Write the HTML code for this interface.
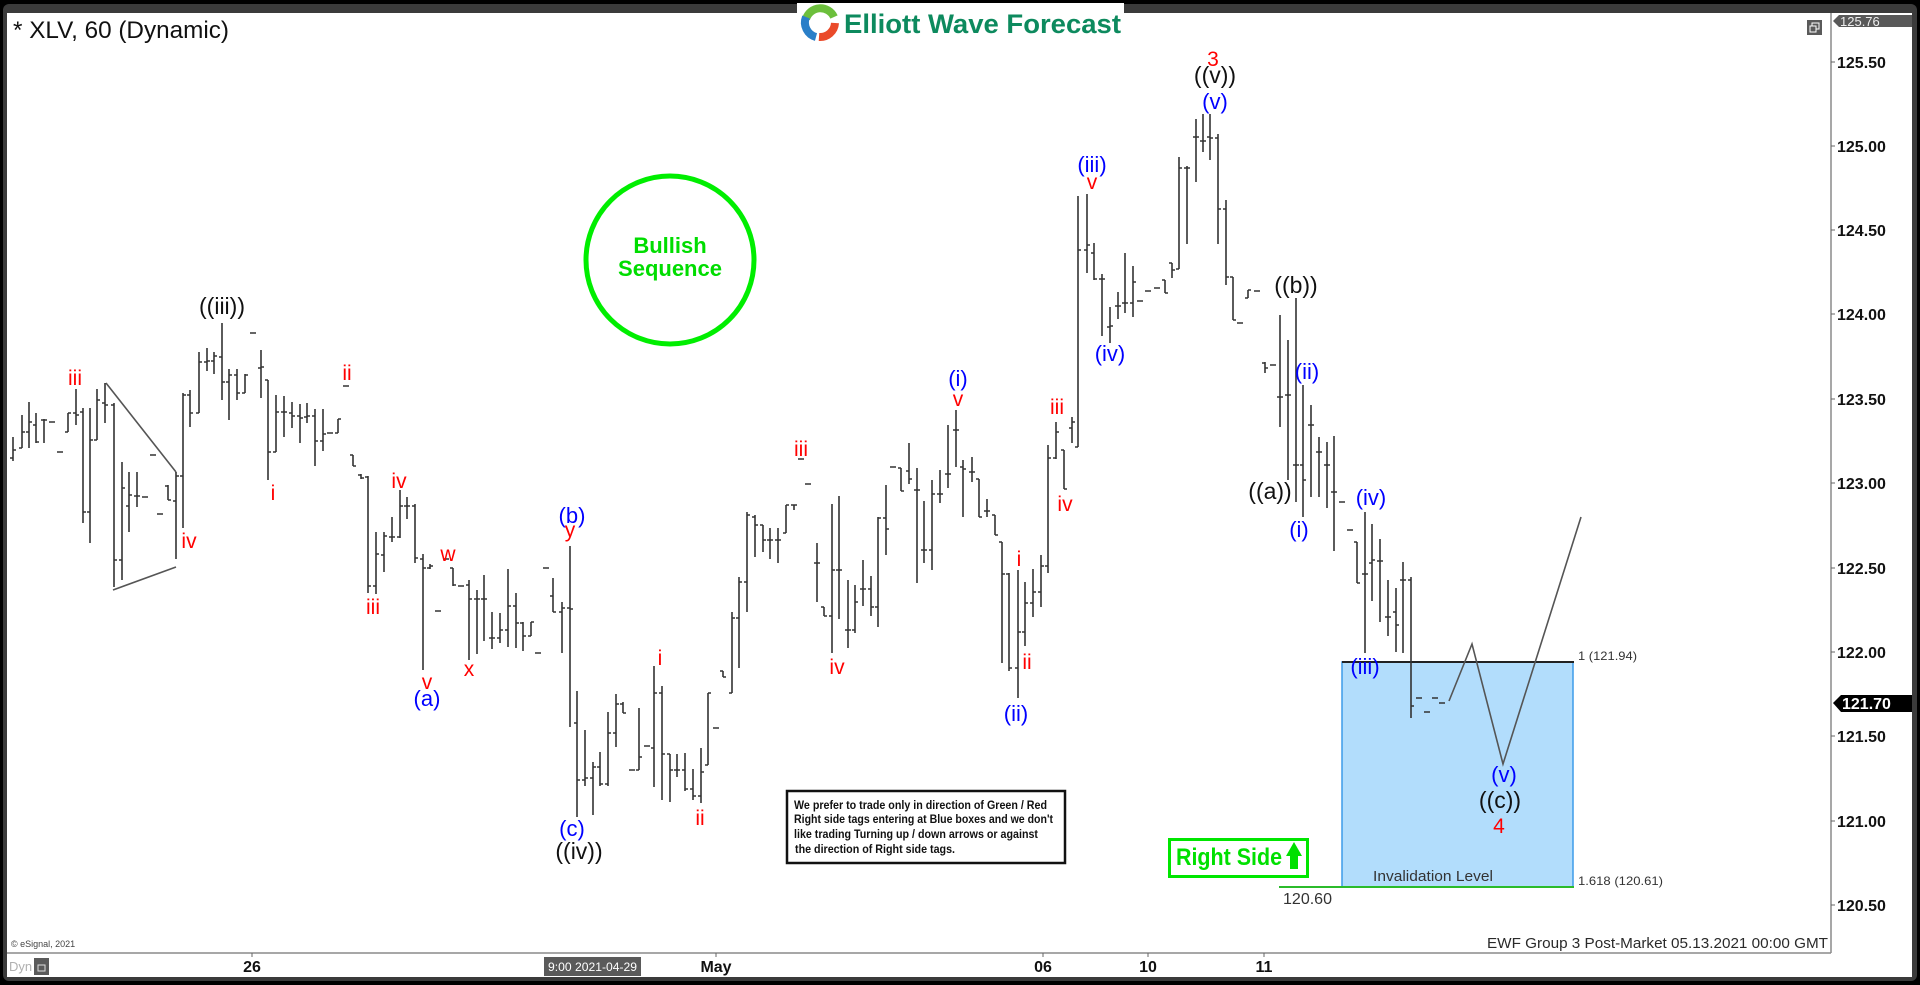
<!DOCTYPE html>
<html><head><meta charset="utf-8"><style>
html,body{margin:0;padding:0;background:#000;overflow:hidden;}
svg{display:block;font-family:"Liberation Sans",Arial,sans-serif;}
</style></head><body>
<svg width="1920" height="985" viewBox="0 0 1920 985" xmlns="http://www.w3.org/2000/svg">
<rect x="0" y="0" width="1920" height="985" fill="#000"/>
<rect x="3" y="4" width="1914" height="977" rx="6" fill="#3b3b3b"/>
<rect x="7" y="13" width="1905" height="964" fill="#fff"/>
<!-- logo -->
<rect x="797" y="3" width="327" height="37" fill="#fff"/>
<path d="M806,19 A15,15 0 0,1 834,17" fill="none" stroke="#6cbf3c" stroke-width="8"/>
<path d="M835,23 A15,15 0 0,1 819,37" fill="none" stroke="#ea4a2a" stroke-width="8"/>
<path d="M816,37 A15,15 0 0,1 806,17" fill="none" stroke="#2a7fc8" stroke-width="8"/>
<text x="844" y="33" font-size="27" font-weight="bold" fill="#0d8a5e" textLength="277" lengthAdjust="spacingAndGlyphs">Elliott Wave Forecast</text>
<!-- title -->
<text x="13" y="38" font-size="24" fill="#111" textLength="216" lengthAdjust="spacingAndGlyphs">* XLV, 60 (Dynamic)</text>
<!-- window icon -->
<rect x="1807" y="20" width="15" height="15" fill="#5a5a5a"/>
<rect x="1812" y="23" width="7" height="6" fill="none" stroke="#fff" stroke-width="1"/>
<rect x="1810" y="26" width="6" height="6" fill="#5a5a5a" stroke="#fff" stroke-width="1"/>
<!-- axes -->
<line x1="1831" y1="13" x2="1831" y2="953" stroke="#8a8a8a" stroke-width="1.5"/>
<line x1="7" y1="953" x2="1831" y2="953" stroke="#8a8a8a" stroke-width="1.5"/>
<g stroke="#666" stroke-width="1">
<path d="M1831 62h4M1831 146h4M1831 230h4M1831 314h4M1831 399h4M1831 483h4M1831 568h4M1831 652h4M1831 736h4M1831 821h4M1831 905h4"/>
<path d="M252 953v4M716 953v4M1043 953v4M1148 953v4M1264 953v4"/>
</g>
<g font-size="16" font-weight="bold" fill="#111">
<text x="1837" y="68">125.50</text>
<text x="1837" y="152">125.00</text>
<text x="1837" y="236">124.50</text>
<text x="1837" y="320">124.00</text>
<text x="1837" y="405">123.50</text>
<text x="1837" y="489">123.00</text>
<text x="1837" y="574">122.50</text>
<text x="1837" y="658">122.00</text>
<text x="1837" y="742">121.50</text>
<text x="1837" y="827">121.00</text>
<text x="1837" y="911">120.50</text>
</g>
<polygon points="1833,21 1839,15 1912,15 1912,27 1839,27" fill="#595959"/>
<text x="1840" y="26" font-size="13" fill="#eee">125.76</text>
<polygon points="1833,703 1841,695 1912,695 1912,712 1841,712" fill="#000"/>
<text x="1842" y="709" font-size="16" font-weight="bold" fill="#fff">121.70</text>
<!-- x axis labels -->
<g font-size="16" font-weight="bold" fill="#111" text-anchor="middle">
<text x="252" y="972">26</text>
<text x="716" y="972">May</text>
<text x="1043" y="972">06</text>
<text x="1148" y="972">10</text>
<text x="1264" y="972">11</text>
</g>
<rect x="544" y="957" width="97" height="19" fill="#5a5a5a"/>
<text x="548" y="971" font-size="12" fill="#fff" textLength="89" lengthAdjust="spacingAndGlyphs">9:00 2021-04-29</text>
<text x="9" y="971" font-size="13" fill="#b0b0b0">Dyn</text>
<rect x="34" y="958" width="15" height="17" fill="#5a5a5a"/>
<rect x="38" y="965" width="7" height="6" fill="none" stroke="#ddd" stroke-width="1"/>
<text x="11" y="947" font-size="9" fill="#444">© eSignal, 2021</text>
<text x="1487" y="948" font-size="15" fill="#2a2a2a" textLength="341" lengthAdjust="spacingAndGlyphs">EWF Group 3 Post-Market 05.13.2021 00:00 GMT</text>
<!-- bullish circle -->
<circle cx="670" cy="260" r="84" fill="none" stroke="#00ee00" stroke-width="5"/>
<g font-size="22" font-weight="bold" fill="#00dd00" text-anchor="middle">
<text x="670" y="253">Bullish</text>
<text x="670" y="276">Sequence</text>
</g>
<!-- blue box -->
<rect x="1342" y="662" width="231" height="225" fill="#b2ddfc" stroke="#3d9be9" stroke-width="1.5"/>
<line x1="1342" y1="662" x2="1574" y2="662" stroke="#222" stroke-width="2"/>
<line x1="1279" y1="887" x2="1574" y2="887" stroke="#2bbb2b" stroke-width="2"/>
<text x="1373" y="881" font-size="15" fill="#333" textLength="120" lengthAdjust="spacingAndGlyphs">Invalidation Level</text>
<text x="1283" y="904" font-size="16" fill="#333" textLength="49" lengthAdjust="spacingAndGlyphs">120.60</text>
<text x="1578" y="660" font-size="12" fill="#333" textLength="59" lengthAdjust="spacingAndGlyphs">1 (121.94)</text>
<text x="1578" y="885" font-size="12" fill="#333" textLength="85" lengthAdjust="spacingAndGlyphs">1.618 (120.61)</text>
<!-- right side -->
<rect x="1169.5" y="839.5" width="138" height="37" fill="#fff" stroke="#00e600" stroke-width="3"/>
<text x="1176" y="865" font-size="24" font-weight="bold" fill="#00e000" textLength="106" lengthAdjust="spacingAndGlyphs">Right Side</text>
<polygon points="1286,856 1294,842 1302,856 1298,856 1298,869 1290,869 1290,856" fill="#00e000"/>
<!-- text box -->
<rect x="787" y="791" width="278" height="72" fill="#fff" stroke="#111" stroke-width="2.5"/>
<g font-size="11.5" font-weight="bold" fill="#111">
<text x="794" y="809" textLength="253" lengthAdjust="spacingAndGlyphs">We prefer to trade only in direction of Green / Red</text>
<text x="794" y="823" textLength="259" lengthAdjust="spacingAndGlyphs">Right side tags entering at Blue boxes and we don't</text>
<text x="794" y="838" textLength="244" lengthAdjust="spacingAndGlyphs">like trading Turning up / down arrows or against</text>
<text x="795" y="853" textLength="160" lengthAdjust="spacingAndGlyphs">the direction of Right side tags.</text>
</g>
<!-- triangle lines & projection -->
<g fill="none" stroke="#555" stroke-width="1.6">
<path d="M106 383L176 472M113 590L176 567"/>
<path d="M1449 701L1472 644L1503 764L1581 517"/>
</g>
<!-- bars -->
<g fill="none" stroke="#333" stroke-width="1.6">
<path d="M13 437V461M22 415V448M29 402V448M36 413V443M44 419V443M68 413V432M76 389V425M83 408V523M90 408V543M97 389V440M105 383V423M114 403V587M122 462V580M129 472V532M137 472V507M168 485V500M176 472V559M183 393V528M190 390V427M199 352V413M207 348V371M214 352V374M222 323V400M229 369V420M237 369V400M245 374V393M261 350V398M268 380V480M276 395V452M284 396V437M292 402V428M300 404V443M307 403V423M315 409V466M323 409V451M338 419V433M353 455V466M361 474V479M368 476V593M376 532V594M384 532V572M392 517V542M400 490V538M407 497V519M415 504V563M423 554V670M430 564V569M453 568V586M469 580V660M477 590V654M484 575V641M492 612V649M500 613V643M508 569V647M516 593V648M523 622V651M531 622V636M553 578V612M562 602V653M570 546V727M577 691V817M585 730V786M593 762V815M600 752V786M608 712V786M616 694V747M623 702V713M639 708V770M654 666V787M662 686V800M670 754V802M677 754V777M685 753V791M693 769V800M701 748V803M708 693V765M723 671V677M732 612V693M739 577V668M747 512V612M755 515V557M763 525V552M770 528V559M778 528V563M786 505V533M794 505V510M817 543V602M824 607V616M832 504V653M839 496V619M848 580V648M855 585V633M863 560V606M871 576V616M878 517V627M886 485V555M901 468V491M909 443V484M917 468V583M924 501V563M932 480V570M940 470V503M948 425V488M956 410V467M963 460V517M972 457V482M979 479V517M987 499V517M995 515V535M1002 542V663M1009 573V671M1018 570V698M1025 582V646M1033 569V617M1041 555V607M1048 445V573M1056 422V459M1064 450V489M1072 417V443M1078 196V447M1087 194V273M1094 243V280M1102 274V336M1110 307V343M1118 292V319M1125 253V313M1133 266V317M1165 280V293M1172 263V278M1179 157V269M1187 166V244M1196 119V182M1203 114V152M1210 114V160M1218 134V244M1226 200V285M1233 277V320M1248 290V298M1265 362V373M1280 315V427M1288 340V480M1296 298V502M1303 385V517M1311 405V497M1319 437V497M1327 442V508M1334 436V551M1357 542V583M1365 512V653M1372 524V601M1380 539V622M1388 580V636M1396 588V652M1403 562V653M1411 577V718"/>
</g>
<g fill="none" stroke="#333" stroke-width="1.4">
<path d="M10 458h3M13 450h3M19 448h3M22 432h3M26 432h3M29 422h3M33 425h3M36 442h3M41 420h3M44 420h3M49 422h6M57 452h6M65 432h3M68 413h3M73 413h3M76 415h3M80 412h3M83 512h3M87 512h3M90 440h3M94 440h3M97 400h3M102 403h3M105 405h3M111 405h3M114 560h3M119 560h3M122 488h3M126 506h3M129 495h3M134 496h3M137 496h3M142 497h6M150 455h6M157 514h6M165 486h3M168 500h3M173 501h3M176 476h3M180 476h3M183 395h3M187 395h3M190 413h3M196 413h3M199 362h3M204 362h3M207 361h3M211 361h3M214 356h3M219 357h3M222 382h3M226 382h3M229 375h3M234 375h3M237 393h3M242 393h3M245 375h3M250 333h6M258 368h3M261 367h3M265 380h3M268 452h3M273 452h3M276 412h3M281 412h3M284 412h3M289 413h3M292 416h3M297 416h3M300 418h3M304 417h3M307 416h3M312 416h3M315 441h3M320 441h3M323 434h3M327 433h6M335 433h3M338 419h3M343 386h6M350 455h3M353 466h3M358 475h3M361 478h3M365 477h3M368 586h3M373 586h3M376 554h3M381 555h3M384 536h3M389 537h3M392 537h3M397 537h3M400 506h3M404 506h3M407 506h3M412 506h3M415 558h3M420 559h3M423 568h3M427 568h3M430 566h3M435 611h6M443 559h6M450 568h3M453 585h3M458 586h6M466 585h3M469 599h3M474 599h3M477 599h3M481 599h3M484 599h3M489 638h3M492 638h3M497 638h3M500 630h3M505 630h3M508 606h3M513 606h3M516 623h3M520 623h3M523 636h3M528 636h3M531 622h3M535 653h6M543 568h6M550 596h3M553 612h3M559 612h3M562 608h3M567 608h3M570 609h3M574 723h3M577 780h3M582 780h3M585 778h3M590 778h3M593 767h3M597 767h3M600 784h3M605 784h3M608 733h3M613 733h3M616 704h3M620 704h3M623 713h3M629 770h6M636 770h3M639 757h3M644 746h6M651 748h3M654 693h3M659 693h3M662 754h3M667 754h3M670 770h3M674 770h3M677 770h3M682 770h3M685 789h3M690 789h3M693 796h3M698 796h3M701 772h3M705 765h3M708 693h3M713 728h6M720 671h3M723 677h3M729 693h3M732 618h3M736 618h3M739 582h3M744 582h3M747 515h3M752 517h3M755 525h3M760 525h3M763 540h3M767 540h3M770 540h3M775 540h3M778 540h3M783 533h3M786 505h3M791 505h3M794 505h3M798 459h6M805 484h6M814 563h3M817 563h3M821 607h3M824 616h3M829 616h3M832 570h3M836 570h3M839 570h3M845 630h3M848 630h3M852 630h3M855 602h3M860 589h3M863 589h3M868 589h3M871 607h3M875 607h3M878 518h3M883 518h3M886 529h3M890 467h6M898 468h3M901 491h3M906 471h3M909 479h3M914 490h3M917 490h3M921 550h3M924 550h3M929 550h3M932 494h3M937 494h3M940 494h3M945 474h3M948 474h3M953 430h3M956 430h3M960 467h3M963 469h3M969 472h3M972 472h3M976 479h3M979 517h3M984 511h3M987 511h3M992 515h3M995 535h3M999 542h3M1002 574h3M1006 574h3M1009 668h3M1015 668h3M1018 632h3M1022 632h3M1025 603h3M1030 603h3M1033 592h3M1038 592h3M1041 566h3M1045 566h3M1048 458h3M1053 458h3M1056 432h3M1061 450h3M1064 489h3M1069 428h3M1072 422h3M1075 447h3M1078 250h3M1084 250h3M1087 245h3M1091 253h3M1094 279h3M1099 279h3M1102 279h3M1107 327h3M1110 326h3M1115 306h3M1118 306h3M1122 303h3M1125 303h3M1130 303h3M1133 282h3M1137 301h6M1145 291h6M1154 288h6M1162 280h3M1165 293h3M1169 263h3M1172 270h3M1176 269h3M1179 168h3M1184 168h3M1187 168h3M1193 137h3M1196 137h3M1200 141h3M1203 141h3M1207 137h3M1210 138h3M1215 138h3M1218 209h3M1223 209h3M1226 277h3M1230 277h3M1233 320h3M1237 323h6M1245 298h3M1248 290h3M1254 291h6M1262 363h3M1265 368h3M1270 365h6M1277 397h3M1280 397h3M1285 395h3M1288 395h3M1293 465h3M1296 465h3M1300 465h3M1303 480h3M1308 425h3M1311 425h3M1316 452h3M1319 452h3M1324 465h3M1327 465h3M1331 492h3M1334 492h3M1339 502h6M1347 530h6M1354 542h3M1357 583h3M1362 574h3M1365 574h3M1369 563h3M1372 560h3M1377 561h3M1380 561h3M1385 617h3M1388 617h3M1393 612h3M1396 625h3M1400 580h3M1403 580h3M1408 580h3M1411 706h3M1416 698h6M1424 712h6M1432 698h6M1439 703h6"/>
</g>
<!-- wave labels: red -->
<g font-size="21" fill="#ff0000" text-anchor="middle">
<text x="75" y="385">iii</text>
<text x="347" y="380">ii</text>
<text x="273" y="500">i</text>
<text x="189" y="548">iv</text>
<text x="373" y="614">iii</text>
<text x="399" y="488">iv</text>
<text x="448" y="561">w</text>
<text x="427" y="689">v</text>
<text x="469" y="676">x</text>
<text x="570" y="537">y</text>
<text x="660" y="665">i</text>
<text x="700" y="825">ii</text>
<text x="801" y="456">iii</text>
<text x="837" y="674">iv</text>
<text x="958" y="406">v</text>
<text x="1019" y="566">i</text>
<text x="1027" y="669">ii</text>
<text x="1057" y="414">iii</text>
<text x="1065" y="511">iv</text>
<text x="1092" y="189">v</text>
<text x="1213" y="66">3</text>
<text x="1499" y="833">4</text>
</g>
<!-- blue -->
<g font-size="22" fill="#0000ff" text-anchor="middle">
<text x="427" y="706">(a)</text>
<text x="572" y="523">(b)</text>
<text x="572" y="836">(c)</text>
<text x="958" y="386">(i)</text>
<text x="1016" y="721">(ii)</text>
<text x="1092" y="172">(iii)</text>
<text x="1110" y="361">(iv)</text>
<text x="1215" y="109">(v)</text>
<text x="1307" y="379">(ii)</text>
<text x="1299" y="537">(i)</text>
<text x="1371" y="505">(iv)</text>
<text x="1365" y="674">(iii)</text>
<text x="1504" y="782">(v)</text>
</g>
<!-- black -->
<g font-size="23" fill="#111" text-anchor="middle">
<text x="222" y="314">((iii))</text>
<text x="579" y="859">((iv))</text>
<text x="1215" y="83">((v))</text>
<text x="1296" y="293">((b))</text>
<text x="1270" y="499">((a))</text>
<text x="1500" y="808">((c))</text>
</g>
</svg>
</body></html>
